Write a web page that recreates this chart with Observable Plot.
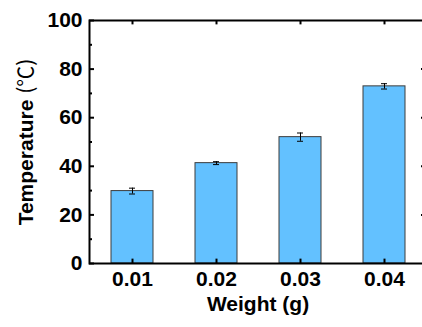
<!DOCTYPE html>
<html><head><meta charset="utf-8">
<script src="https://cdn.jsdelivr.net/npm/d3@7"></script>
<script src="https://cdn.jsdelivr.net/npm/@observablehq/plot@0.6"></script>
<style>
html,body{margin:0;padding:0;background:#fff;overflow:hidden;}
</style></head><body><div id="chart"></div>
<script>
const weights = ["0.01", "0.02", "0.03", "0.04"];
const temps = [29.8, 41.3, 52.0, 72.9];
const errors = [1.2, 0.6, 1.7, 1.1];
const yTicks = [0, 20, 40, 60, 80, 100];
const yMinorTicks = [10, 30, 50, 70, 90];
const rightTicks = [20, 40, 60, 80];
const data = weights.map((w, i) => ({w, t: temps[i], e: errors[i]}));

(function () {
const W = 422, H = 327, fLeft = 89, fRight = 426, fTop = 20, fBottom = 263;
const fw = fRight - fLeft;
const plot = Plot.plot({
  width: W, height: H,
  marginLeft: fLeft, marginRight: W - fRight, marginTop: fTop, marginBottom: H - fBottom,
  style: {fontFamily: "'Liberation Sans', Arial, sans-serif", fontWeight: "bold", fontSize: "21px", color: "#000", background: "#fff", overflow: "visible"},
  x: {domain: weights, range: [fLeft, fRight], paddingInner: 0.5, paddingOuter: 0.25},
  y: {domain: [0, 100]},
  marks: [
    Plot.barY(data, {x: "w", y: "t", fill: "#63C1FF", stroke: "#3c3c3c", strokeWidth: 1}),
    Plot.ruleX(data, {x: "w", y1: d => d.t - d.e, y2: d => d.t + d.e, stroke: "#000", strokeWidth: 1}),
    Plot.tickY(data, {x: "w", y: d => d.t - d.e, insetLeft: 18, insetRight: 18, stroke: "#000"}),
    Plot.tickY(data, {x: "w", y: d => d.t + d.e, insetLeft: 18, insetRight: 18, stroke: "#000"}),
    Plot.ruleY(yTicks, {y: d => d, insetRight: fw - 5, stroke: "#000", strokeWidth: 2}),
    Plot.ruleY(yMinorTicks, {y: d => d, insetRight: fw - 3, stroke: "#000", strokeWidth: 2}),
    Plot.ruleY(rightTicks, {y: d => d, insetLeft: fw - 5, stroke: "#000", strokeWidth: 2}),
    Plot.ruleX(weights, {x: d => d, y1: 0, y2: 1.8, stroke: "#000", strokeWidth: 2}),
    Plot.ruleX(weights, {x: d => d, y1: 100, y2: 98.2, stroke: "#000", strokeWidth: 2}),
    Plot.frame({stroke: "#000", strokeWidth: 2}),
    Plot.axisY(yTicks, {anchor: "left", tickSize: 0, tickPadding: 7, label: "Temperature (℃)", labelAnchor: "center", labelOffset: 71}),
    Plot.axisX({anchor: "bottom", tickSize: 0, tickPadding: 8, label: "Weight (g)", labelAnchor: "center", labelOffset: 47})
  ]
});
document.getElementById("chart").appendChild(plot);
const svg = d3.select(plot);
const lab = svg.select('g[aria-label="y-axis label"] text');
if (!lab.empty()) {
  lab.text(null).style("font-size", "21px");
  lab.append("tspan").text("Temperature ");
  lab.append("tspan").attr("font-weight", "normal").attr("font-family", "'Noto Sans CJK SC', sans-serif").text("(℃)");
}
svg.select('g[aria-label="x-axis label"] text').style("font-size", "21px");
})();
</script></body></html>
